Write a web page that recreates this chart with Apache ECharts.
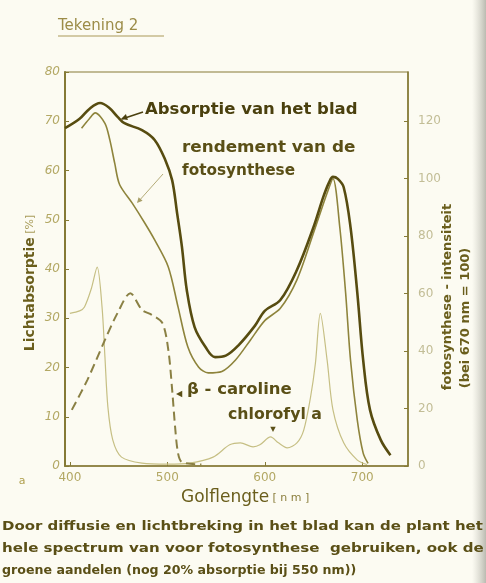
<!DOCTYPE html>
<html>
<head>
<meta charset="utf-8">
<script src="https://cdn.jsdelivr.net/npm/echarts@6/dist/echarts.min.js"></script>
<style>
html,body{margin:0;padding:0;background:#fcfbf2;}
#c{width:486px;height:583px;}
</style>
</head>
<body>
<div id="c"></div>
<script>
// ---- data (wavelength in nm) ----
const xTicks = [400, 500, 600, 700];
const leftTicksMax = 80;
const rightTicksMax = 120;

const absNm  = [395,410,420,431,440,449,456,474,487,498,505,510,515,520,528,539,549,560,573,590,600,616,633,650,660,666,670,675,681,688,695,701,708,719,729];
const absVal = [68.6,70.5,72.5,73.7,72.8,70.9,69.6,68.2,66.2,62.1,58,51.4,44.5,35.7,28.2,24.2,22.1,22.4,24.5,28.5,31.5,33.7,39.8,48.5,54.6,57.6,58.7,58.3,56.6,48.5,35.1,21.5,11.4,5.3,2.2];

// rendement van de fotosynthese (right axis, 670 nm = 100)
const rendNm  = [412,420,426,436,441,446,451,464,477,487,501,511,521,532,542,556,570,585,600,616,633,650,664,670,677,683,688,695,701,706];
const rendVal = [117.6,120.9,122.9,119.3,113.5,105.4,98,91.5,84.5,78.7,69.3,55.4,41.5,34.5,32.4,32.9,36.9,43.7,50.6,54.9,64.8,81.1,95,100,83.1,60.2,36.9,15.9,4.5,0.9];

// chlorofyl a
const chlNm  = [400,410,415,422,428,433,436,439,444,453,474,500,523,547,564,575,588,595,606,614,623,633,640,647,652,657,664,670,681,695,705];
const chlVal = [31,31.5,32.3,36,40.4,32.3,22.1,12,5.3,1.8,0.6,0.4,0.6,1.8,4.3,4.7,3.9,4.3,5.9,4.7,3.7,4.7,7.3,14,20.9,31,21.5,11.4,4.7,1.2,0.3];

// beta-caroteen
const carNm  = [402,418,436,449,462,474,484,495,501,505,508,511,515,535];
const carVal = [11.4,17.5,25.6,31.1,35.1,31.7,30.7,29,23.6,15.4,7.9,2.6,0.8,0.3];

const zip = (a, b) => a.map((v, i) => [v, b[i]]);

const FONT = 'DejaVu Sans';
const axisCol = '#857a36';
const labCol = '#b3a864';
const txtCol = '#5a4f16';

const chart = echarts.init(document.getElementById('c'));

function arrowHead(x, y, ang, size, color) {
  const a1 = ang + Math.PI * 0.85, a2 = ang - Math.PI * 0.85;
  return {
    type: 'polygon', silent: true,
    shape: { points: [[x, y], [x + size * Math.cos(a1), y + size * Math.sin(a1)], [x + size * Math.cos(a2), y + size * Math.sin(a2)]] },
    style: { fill: color }
  };
}
function label(text, x, y, font, fill, sx) {
  return { type: 'text', x: x, y: y, scaleX: sx || 1, style: { text: text, verticalAlign: 'middle', font: font, fill: fill } };
}

const option = {
  backgroundColor: '#fcfbf2',
  animation: false,
  grid: { left: 65, right: 78, top: 72, bottom: 117, show: true, borderColor: axisCol, borderWidth: 1.2, backgroundColor: 'transparent' },
  xAxis: {
    type: 'value', min: 395, max: 747,
    axisLine: { show: true, lineStyle: { color: axisCol, width: 1.5 } },
    axisTick: { show: true, inside: true, length: 4, customValues: xTicks, lineStyle: { color: axisCol } },
    axisLabel: { customValues: xTicks, color: labCol, fontFamily: FONT, fontSize: 12, margin: 6 },
    splitLine: { show: false }
  },
  yAxis: [
    {
      type: 'value', min: 0, max: leftTicksMax, interval: 10,
      axisLine: { show: true, lineStyle: { color: axisCol, width: 2 } },
      axisTick: { show: true, inside: true, length: 4, lineStyle: { color: axisCol } },
      axisLabel: { color: labCol, fontFamily: FONT, fontSize: 12, fontStyle: 'italic', margin: 5 },
      splitLine: { show: false }
    },
    {
      type: 'value', min: 0, max: rightTicksMax * 8 / 7, interval: 20, position: 'right',
      axisLine: { show: true, lineStyle: { color: axisCol, width: 1.5 } },
      axisTick: { show: true, inside: true, length: 4, lineStyle: { color: axisCol } },
      axisLabel: { color: '#c2bd96', fontFamily: FONT, fontSize: 12, margin: 10, showMaxLabel: false,
        formatter: v => (v % 20 === 0 ? String(v) : '') },
      splitLine: { show: false }
    }
  ],
  series: [
    { name: 'Absorptie van het blad', type: 'line', yAxisIndex: 0, data: zip(absNm, absVal),
      smooth: 0.35, showSymbol: false, lineStyle: { color: '#574c10', width: 2.6 }, z: 5 },
    { name: 'rendement van de fotosynthese', type: 'line', yAxisIndex: 1, data: zip(rendNm, rendVal),
      smooth: 0.3, showSymbol: false, lineStyle: { color: '#8e843c', width: 1.6 }, z: 4 },
    { name: 'chlorofyl a', type: 'line', yAxisIndex: 0, data: zip(chlNm, chlVal),
      smooth: 0.3, showSymbol: false, lineStyle: { color: '#c6bf84', width: 1.2 }, z: 3 },
    { name: 'β - caroteen', type: 'line', yAxisIndex: 0, data: zip(carNm, carVal),
      smooth: 0.3, showSymbol: false, lineStyle: { color: '#8a8044', width: 2, type: [9, 5] }, z: 3 }
  ],
  graphic: [
    { type: 'rect', z: -1, silent: true, shape: { x: 472, y: 0, width: 14, height: 583 },
      style: { fill: new echarts.graphic.LinearGradient(0, 0, 1, 0, [{ offset: 0, color: 'rgba(200,200,190,0)' }, { offset: 1, color: 'rgba(175,175,165,0.85)' }]) } },
    // title
    { type: 'text', x: 58, y: 26, style: { text: 'Tekening 2', verticalAlign: 'middle', font: '15px "' + FONT + '"', fill: '#9c8c48' } },
    { type: 'line', shape: { x1: 58, y1: 36, x2: 164, y2: 36 }, style: { stroke: '#a99a58', lineWidth: 1.2 } },
    // left axis title
    { type: 'text', x: 30, y: 283, rotation: Math.PI / 2,
      style: { text: '{b|Lichtabsorptie} {s|[%]}', align: 'center', verticalAlign: 'middle',
        rich: { b: { font: 'bold 14px "' + FONT + '"', fill: '#6a5e1c' }, s: { font: '11px "' + FONT + '"', fill: '#a89c5a' } } } },
    // right axis title
    { type: 'text', x: 448, y: 297, rotation: Math.PI / 2,
      style: { text: 'fotosynthese - intensiteit', align: 'center', verticalAlign: 'middle', font: 'bold 13px "' + FONT + '"', fill: '#6a5e1c' } },
    { type: 'text', x: 466, y: 318, rotation: Math.PI / 2,
      style: { text: '(bei 670 nm = 100)', align: 'center', verticalAlign: 'middle', font: 'bold 13px "' + FONT + '"', fill: '#6a5e1c' } },
    // x axis title
    { type: 'text', x: 181, y: 498, style: { text: '{b|Golflengte} {s|[ n m ]}', verticalAlign: 'middle',
        rich: { b: { font: '17px "' + FONT + '"', fill: '#6a5e1c' }, s: { font: '11px "' + FONT + '"', fill: '#8a7e3c' } } } },
    // caption
    label('Door diffusie en lichtbreking in het blad kan de plant het', 2, 527, 'bold 13px "' + FONT + '"', txtCol, 1.15),
    label('hele spectrum van voor fotosynthese  gebruiken, ook de', 2, 549, 'bold 13px "' + FONT + '"', txtCol, 1.16),
    label('groene aandelen (nog 20% absorptie bij 550 nm))', 2, 571, 'bold 13px "' + FONT + '"', txtCol, 0.97),
    // stray 'a'
    { type: 'text', x: 22, y: 481, style: { text: 'a', align: 'center', verticalAlign: 'middle', font: '11px "' + FONT + '"', fill: '#b0a050' } },
    // annotations
    label('Absorptie van het blad', 145, 110, 'bold 15px "' + FONT + '"', '#4a400e', 1.1),
    { type: 'line', shape: { x1: 143, y1: 112, x2: 122, y2: 119 }, style: { stroke: '#4a400e', lineWidth: 1.5 } },
    arrowHead(121, 119, Math.atan2(7, -21), 7, '#4a400e'),
    label('rendement van de', 182, 148, 'bold 15px "' + FONT + '"', txtCol, 1.12),
    label('fotosynthese', 182, 171, 'bold 15px "' + FONT + '"', txtCol, 1.02),
    { type: 'line', shape: { x1: 163, y1: 174, x2: 138, y2: 202 }, style: { stroke: '#b4ab78', lineWidth: 1 } },
    arrowHead(137, 203, Math.atan2(28, -25), 6, '#a89f68'),
    label('β - caroline', 187, 390, 'bold 15px "' + FONT + '"', txtCol, 1.1),
    arrowHead(176, 394, Math.PI, 7, txtCol),
    label('chlorofyl a', 228, 415, 'bold 15px "' + FONT + '"', txtCol, 1.05),
    arrowHead(273, 432, Math.PI / 2, 6, txtCol)
  ]
};
chart.setOption(option);
</script>
</body>
</html>
